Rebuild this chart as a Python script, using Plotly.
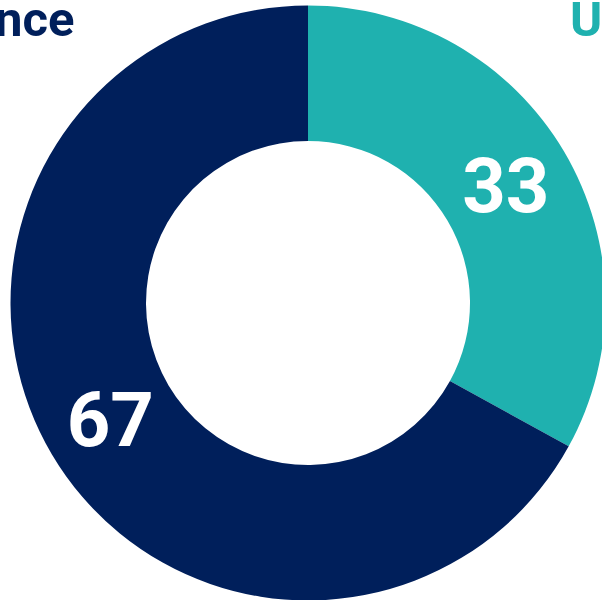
import plotly.graph_objects as go

categories = ["Uncertainty", "Confidence"]
values = [33, 67]
colors = ["#1FB1AF", "#001F5B"]

W, H = 616, 606
R = 297.5
fig = go.Figure(go.Pie(
    labels=categories,
    values=values,
    hole=162 / R,
    sort=False,
    direction="clockwise",
    rotation=0,
    marker=dict(colors=colors, line=dict(width=0)),
    textinfo="value",
    textposition="inside",
    insidetextorientation="horizontal",
    textfont=dict(family="Roboto", size=76, color="white", weight=700),
    domain=dict(x=[0, 1], y=[(H - 2 * R) / 2 / H, 1 - (H - 2 * R) / 2 / H]),
    hoverinfo="label+value",
))

fig.add_annotation(text="Confidence", x=77 / W, y=1 - 20 / H, xref="paper", yref="paper",
                   xanchor="right", yanchor="middle", showarrow=False,
                   font=dict(family="Roboto", size=49, color=colors[1], weight=700))
fig.add_annotation(text="Uncertainty", x=568 / W, y=1 - 20 / H, xref="paper", yref="paper",
                   xanchor="left", yanchor="middle", showarrow=False,
                   font=dict(family="Roboto", size=49, color=colors[0], weight=700))

fig.update_layout(width=W, height=H, margin=dict(l=0, r=0, t=0, b=0),
                  showlegend=False, paper_bgcolor="white", plot_bgcolor="white")

fig.write_html("out.html", config={"displayModeBar": False}, post_script=(
    "document.body.style.margin='0';document.body.style.overflow='hidden';"
    "document.documentElement.style.overflow='hidden';"))
